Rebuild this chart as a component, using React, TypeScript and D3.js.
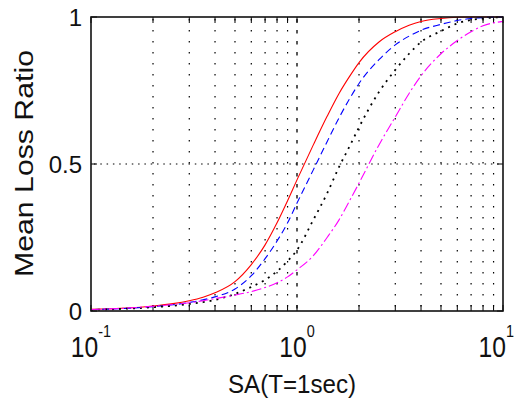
import React from "react";
import * as d3 from "d3";

const sa = [0.1, 0.15, 0.2, 0.25, 0.3, 0.35, 0.4, 0.5, 0.6, 0.7, 0.8, 0.9, 1.0, 1.2, 1.4, 1.6, 1.8, 2.0, 2.5, 3.0, 3.5, 4.0, 5.0, 6.0, 7.0, 8.0, 10];
const redLoss = [0.006, 0.01, 0.017, 0.025, 0.035, 0.047, 0.062, 0.10, 0.158, 0.225, 0.30, 0.375, 0.446, 0.565, 0.662, 0.74, 0.798, 0.845, 0.915, 0.95, 0.972, 0.985, 0.995, 0.999, 1, 1, 1];
const blueLoss = [0.005, 0.009, 0.015, 0.021, 0.029, 0.038, 0.048, 0.075, 0.12, 0.178, 0.238, 0.30, 0.367, 0.48, 0.576, 0.657, 0.722, 0.774, 0.855, 0.905, 0.935, 0.955, 0.975, 0.988, 0.995, 0.998, 1.0];
const blackLoss = [0.004, 0.008, 0.013, 0.018, 0.024, 0.03, 0.038, 0.058, 0.082, 0.106, 0.135, 0.17, 0.207, 0.31, 0.40, 0.49, 0.56, 0.625, 0.745, 0.82, 0.875, 0.915, 0.952, 0.978, 0.99, 0.995, 1.0];
const magentaLoss = [0.005, 0.01, 0.016, 0.022, 0.028, 0.035, 0.042, 0.054, 0.066, 0.08, 0.096, 0.116, 0.14, 0.188, 0.25, 0.31, 0.375, 0.435, 0.565, 0.66, 0.74, 0.80, 0.875, 0.92, 0.95, 0.97, 0.985];

const yTicks = [0, 0.5, 1];
const yTickLabels = ["0", "0.5", "1"];
const xMajor = [0.1, 1, 10];
const xExponents = ["-1", "0", "1"];
const xLabel = "SA(T=1sec)";
const yLabel = "Mean Loss Ratio";

const series = [
  { values: redLoss, color: "#ff0000", dash: "none", width: 1.1 },
  { values: blueLoss, color: "#0000ff", dash: "7 4", width: 1.1 },
  { values: blackLoss, color: "#000000", dash: "2 5", width: 1.8 },
  { values: magentaLoss, color: "#ff00ff", dash: "10 3 2 3", width: 1.1 },
];

const L = 91, R = 503, T = 17, B = 311;
const FONT = "'Liberation Sans', Arial, Helvetica, sans-serif";

export default function App() {
  const x = d3.scaleLog().domain([0.1, 10]).range([L, R]);
  const y = d3.scaleLinear().domain([0, 1]).range([B, T]);
  const minor: number[] = [];
  for (const d of [0.1, 1]) for (let k = 2; k <= 9; k++) minor.push(+(d * k).toFixed(2));
  const allTicks = [...xMajor, ...minor];
  const line = d3
    .line<number>()
    .x((_, i) => x(sa[i]))
    .y((v) => y(v))
    .curve(d3.curveMonotoneX);

  return (
    <svg width={516} height={404} style={{ position: "absolute", left: 0, top: 0, background: "#fff" }} fontFamily={FONT}>
      <defs>
        <clipPath id="plot">
          <rect x={L} y={T - 1} width={R - L} height={B - T + 2} />
        </clipPath>
      </defs>
      <rect x={0} y={0} width={516} height={404} fill="#fff" />
      {minor.map((t) => (
        <line key={"g" + t} x1={x(t)} x2={x(t)} y1={T + 2} y2={B} stroke="#000" strokeWidth={1.2} strokeDasharray="1.5 9.5" />
      ))}
      <line x1={x(1)} x2={x(1)} y1={T + 2} y2={B} stroke="#000" strokeWidth={1.3} strokeDasharray="3.5 7.5" />
      <line x1={L + 3} x2={R} y1={y(0.5)} y2={y(0.5)} stroke="#000" strokeWidth={1.2} strokeDasharray="1.5 4.8" />
      {allTicks.map((t) => (
        <g key={"t" + t}>
          <line x1={x(t)} x2={x(t)} y1={B} y2={B - 6} stroke="#000" strokeWidth={1} />
          <line x1={x(t)} x2={x(t)} y1={T} y2={T + 6} stroke="#000" strokeWidth={1} />
        </g>
      ))}
      {yTicks.map((t) => (
        <g key={"yt" + t}>
          <line x1={L} x2={L + 6} y1={y(t)} y2={y(t)} stroke="#000" strokeWidth={1} />
          <line x1={R} x2={R - 6} y1={y(t)} y2={y(t)} stroke="#000" strokeWidth={1} />
        </g>
      ))}
      <g clipPath="url(#plot)">
        {series.map((s, i) => (
          <path key={i} d={line(s.values) || ""} fill="none" stroke={s.color} strokeWidth={s.width} strokeDasharray={s.dash} />
        ))}
      </g>
      <rect x={L} y={T} width={R - L} height={B - T} fill="none" stroke="#111" strokeWidth={1.6} />
      {yTicks.map((t, i) => (
        <text key={"yl" + t} x={82} y={y(t) + 9} textAnchor="end" fontSize={24} fill="#111">
          {yTickLabels[i]}
        </text>
      ))}
      {xMajor.map((t, i) => {
        const last = i === xMajor.length - 1;
        const cx = last ? 514 : x(t);
        return (
          <g key={"xl" + t} transform={`translate(${cx},357) scale(0.85,1)`}>
            <text x={0} y={0} textAnchor={last ? "end" : "middle"} fontSize={29} fill="#111">
              10
              <tspan dy={-20} fontSize={17}>{xExponents[i]}</tspan>
            </text>
          </g>
        );
      })}
      <text x={292} y={393} textAnchor="middle" fontSize={25} fill="#111" textLength={128} lengthAdjust="spacingAndGlyphs">
        {xLabel}
      </text>
      <text
        transform={`translate(33,163.5) rotate(-90)`}
        textAnchor="middle"
        fontSize={25}
        fill="#111"
        textLength={227}
        lengthAdjust="spacingAndGlyphs"
      >
        {yLabel}
      </text>
    </svg>
  );
}
